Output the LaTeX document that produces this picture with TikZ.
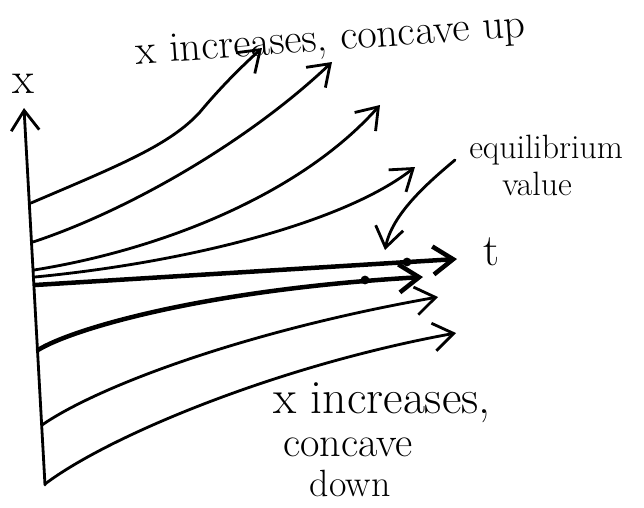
\documentclass[tikz,border=0pt]{standalone}
\usepackage{fontspec}
\usepackage{tikz}
\usetikzlibrary{arrows.meta}

\begin{document}
\begin{tikzpicture}[x=0.025cm, y=-0.025cm, every node/.style={inner sep=0pt, font=\fontsize{30}{32}\selectfont},
  axisline/.style={line width=2pt, line cap=round, -{Straight Barb[length=5mm, width=7mm]}},
  traj/.style={line width=2pt, line cap=round, -{Straight Barb[length=5mm, width=7mm]}},
  eqline/.style={traj, line width=3.2pt},
  dot/.style={circle, fill, inner sep=0pt, minimum size=2.2mm}]
\useasboundingbox (0,0) rectangle (644,507);
% axes
\coordinate (o) at (45,485);
\coordinate (xtop) at (24,108);
\draw[axisline] (o) -- (xtop);
\node (xlab) at (23,84) {\fontsize{32}{32}\selectfont x};
\coordinate (t0) at (35,285);
\coordinate (tend) at (457,259);
\draw[eqline] (t0) -- (tend);
\node (tlab) at (491,252) {\fontsize{32}{32}\selectfont t};
\node[dot] (d1) at (407,262) {};
% solutions above the equilibrium
\draw[traj] (31,203) .. controls (120,165) and (170,145) .. (200,112) .. controls (220,88) and (240,68) .. (262,48);
\draw[traj] (33,242) .. controls (130,210) and (250,140) .. (332,62);
\draw[traj] (34,270) .. controls (160,250) and (300,195) .. (380,105);
\draw[traj] (35,277) .. controls (190,262) and (345,222) .. (415,167);
% solutions below
\draw[eqline] (38,350) .. controls (70,330) and (200,290) .. (423,277);
\node[dot] (d2) at (365,280) {};
\draw[traj] (42,425) .. controls (100,385) and (250,330) .. (438,297);
\draw[traj] (45,484) .. controls (110,435) and (280,365) .. (456,333);
% labels
\node[rotate=4] (uplab) at (331,41) {x increases, concave up};
\node[anchor=base west, font=\fontsize{24}{26}\selectfont] (equil) at (469,158) {equilibrium};
\node[anchor=base west, font=\fontsize{24}{26}\selectfont] (val) at (502,195) {value};
\coordinate (eqs) at (455,160);
\draw[traj] (eqs) .. controls (425,185) and (392,215) .. (385,250);
\node[anchor=north west, align=left, font=\fontsize{30}{28}\selectfont] (downlab) at (273,382)
  {{\fontsize{34}{28}\selectfont x increases,}\\[3pt]
   \hspace{7pt}concave\\
   \hspace{26pt}{\fontsize{27}{28}\selectfont down}};
\end{tikzpicture}
\end{document}
